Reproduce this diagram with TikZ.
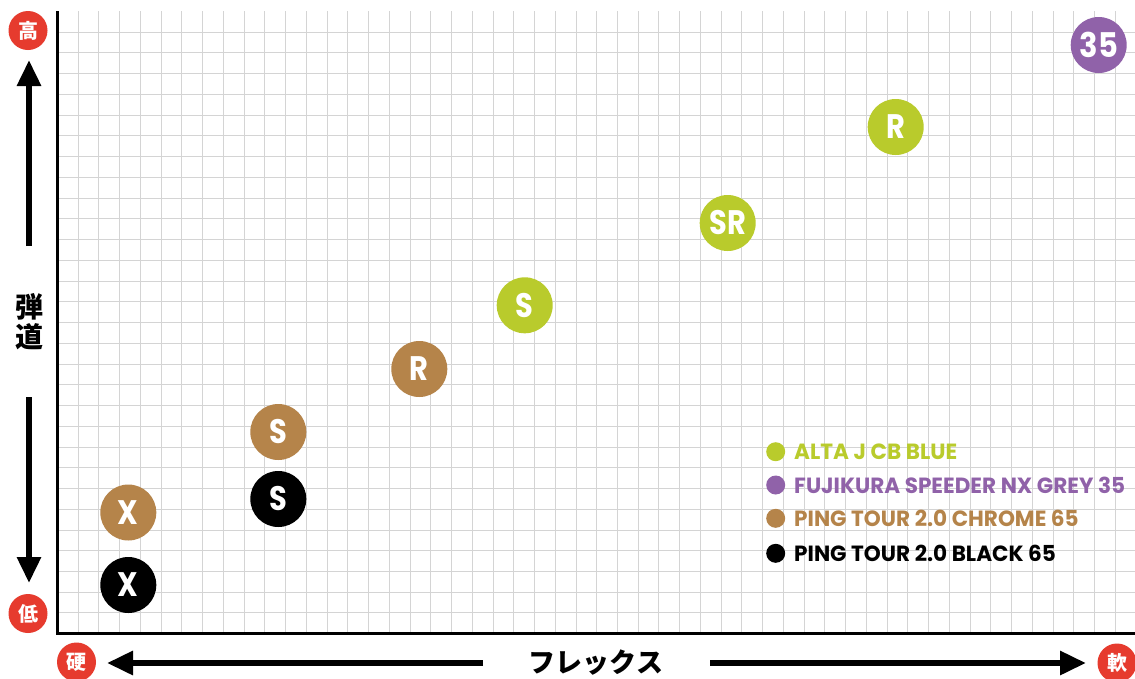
\documentclass[tikz,border=0pt]{standalone}
\usepackage{graphicx}
\usepackage{fontspec}
\setmainfont{Poppins}
\newfontfamily\jp{Noto Sans CJK JP}
\usetikzlibrary{arrows.meta}
\definecolor{cgreen}{HTML}{B9CB2C}
\definecolor{cpurple}{HTML}{9062A9}
\definecolor{cbrown}{HTML}{B5844A}
\definecolor{cred}{HTML}{E63B2E}
\definecolor{cgrid}{HTML}{D4D4D4}
\newcommand{\sqz}[2]{\scalebox{#1}[1]{#2}}
\tikzset{
  bub/.style={circle, minimum size=56pt, inner sep=0pt, text=white, font=\bfseries\fontsize{34}{34}\selectfont},
  redlbl/.style={circle, fill=cred, minimum size=39pt, inner sep=0pt, text=white, font=\jp\bfseries\fontsize{20}{20}\selectfont},
  gridline/.style={draw=cgrid, line width=1.2pt},
  axisline/.style={line width=3pt},
  arr/.style={line width=6pt, -{Triangle[width=23pt,length=26pt]}},
  legdot/.style={circle, minimum size=19pt, inner sep=0pt},
  legtxt/.style={anchor=base west, inner sep=0pt, font=\bfseries\fontsize{22}{22}\selectfont},
  jplbl/.style={inner sep=0pt, font=\jp\bfseries\fontsize{28}{30}\selectfont},
}
\begin{document}
\begin{tikzpicture}[x=1pt,y=-1pt]
\useasboundingbox (0,0) rectangle (1135,678);
\fill[white] (0,0) rectangle (1135,678);
% grid
\foreach \k in {1,...,52} {
  \pgfmathsetmacro{\gx}{round(57+\k*20.74)+0.5}
  \draw[gridline] (\gx,11) -- (\gx,633);
}
\foreach \k in {1,...,29} {
  \pgfmathsetmacro{\gy}{round(11+\k*20.74)+0.5}
  \draw[gridline] (57,\gy) -- (1135,\gy);
}
% axes
\coordinate (axTop) at (57,11);
\coordinate (axOrig) at (57,633);
\coordinate (axRight) at (1135,633);
\draw[axisline] (axTop) -- (axOrig) -- (axRight);
% axis end labels
\node[redlbl] (hi) at (28,30.5) {高};
\node[redlbl] (lo) at (28,613.5) {低};
\node[redlbl] (hard) at (76.5,662) {硬};
\node[redlbl] (soft) at (1117,663) {軟};
% axis titles
\node[jplbl, align=center] (traj) at (29,322) {弾\\道};
\node[jplbl, font=\jp\bfseries\fontsize{27}{27}\selectfont] (flex) at (596,663) {フレックス};
% arrows
\coordinate (upS) at (29,246);
\coordinate (upE) at (29,60);
\coordinate (dnS) at (29,397);
\coordinate (dnE) at (29,583);
\coordinate (lfS) at (483,663);
\coordinate (lfE) at (107,663);
\coordinate (rtS) at (710,663);
\coordinate (rtE) at (1086,663);
\draw[arr] (upS) -- (upE);
\draw[arr] (dnS) -- (dnE);
\draw[arr] (lfS) -- (lfE);
\draw[arr] (rtS) -- (rtE);
% bubbles
\node[bub, fill=black]   (bX) at (128.3,585)   {\sqz{0.85}{X}};
\node[bub, fill=cbrown]  (cX) at (128.3,512.5) {\sqz{0.85}{X}};
\node[bub, fill=black]   (bS) at (278.3,499)   {\sqz{0.85}{S}};
\node[bub, fill=cbrown]  (cS) at (278.3,432)   {\sqz{0.85}{S}};
\node[bub, fill=cbrown]  (cR) at (419.3,369)   {\sqz{0.85}{R}};
\node[bub, fill=cgreen]  (gS) at (524.7,305.3) {\sqz{0.85}{S}};
\node[bub, fill=cgreen]  (gSR) at (727.7,223)  {\sqz{0.85}{SR}};
\node[bub, fill=cgreen]  (gR) at (895.7,127)   {\sqz{0.85}{R}};
\node[bub, fill=cpurple] (p35) at (1098.7,45)  {\sqz{0.9}{35}};
% legend
\node[legdot, fill=cgreen]  (d1) at (775.7,451.7) {};
\node[legdot, fill=cpurple] (d2) at (775.7,485)   {};
\node[legdot, fill=cbrown]  (d3) at (775.7,518.3) {};
\node[legdot, fill=black]   (d4) at (775.7,553.3) {};
\node[legtxt, text=cgreen]  (t1) at (794,459.7) {\sqz{0.98}{ALTA J CB BLUE}};
\node[legtxt, text=cpurple] (t2) at (794,493)   {\sqz{0.98}{FUJIKURA SPEEDER NX GREY 35}};
\node[legtxt, text=cbrown]  (t3) at (794,526.3) {\sqz{0.98}{PING TOUR 2.0 CHROME 65}};
\node[legtxt, text=black]   (t4) at (794,561.3) {\sqz{0.98}{PING TOUR 2.0 BLACK 65}};
\end{tikzpicture}
\end{document}
